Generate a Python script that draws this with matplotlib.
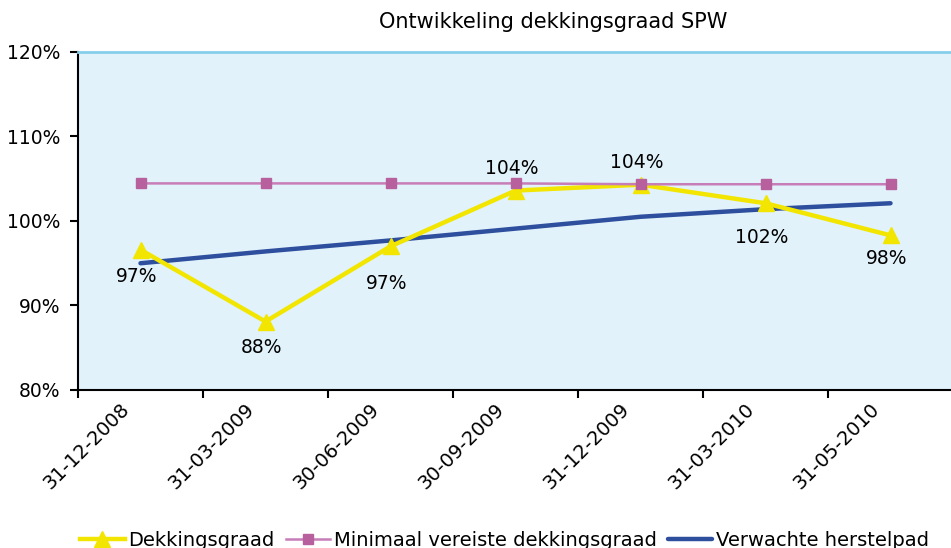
import matplotlib
matplotlib.use('Agg')
import numpy as np
from matplotlib import pyplot as plt
from matplotlib.ticker import FuncFormatter
from matplotlib.transforms import ScaledTranslation

dates = ['31-12-2008', '31-03-2009', '30-06-2009', '30-09-2009',
         '31-12-2009', '31-03-2010', '31-05-2010']
dekkingsgraad = [96.6, 88.1, 97.0, 103.6, 104.3, 102.1, 98.3]
minimaal = [104.45, 104.45, 104.45, 104.45, 104.35, 104.35, 104.35]
herstelpad = [95.0, 96.4, 97.7, 99.1, 100.5, 101.4, 102.1]
# label offsets in points (negative = below the marker)
label_off = [-19, -19, -27, 16, 16, -25, -17]

plt.rcParams['font.family'] = ['DejaVu Sans']

W, H = 951, 548
fig = plt.figure(figsize=(W / 100, H / 100), dpi=100)
ax = fig.add_axes([78 / W, (H - 390) / H, 875 / W, 338 / H])
ax.set_facecolor('#E1F2FA')

x = np.arange(len(dates))
ax.plot(x, dekkingsgraad, color='#F2E600', lw=3.2, marker='^', ms=12,
        label='Dekkingsgraad', zorder=3)
ax.plot(x, minimaal, color='#C77DB8', lw=1.8, marker='s', ms=6.5,
        mfc='#B8609E', mec='#B8609E', label='Minimaal vereiste dekkingsgraad', zorder=4)
ax.plot(x, herstelpad, color='#2E4E9E', lw=3.2, solid_capstyle='round',
        label='Verwachte herstelpad', zorder=2)

for xi, v, off in zip(x, dekkingsgraad, label_off):
    ax.annotate(f'{v:.0f}%', (xi, v), xytext=(-3, off), textcoords='offset points',
                ha='center', va='center', fontsize=13.5)

ax.set_xlim(-0.5, len(dates) - 0.5)
ax.set_ylim(80, 120)
ax.set_yticks([80, 90, 100, 110, 120])
ax.yaxis.set_major_formatter(FuncFormatter(lambda v, p: f'{v:.0f}%'))
ax.set_xticks(x)
ax.set_xticklabels(dates, rotation=45, ha='right', va='center', rotation_mode='anchor')
ax.set_xticks(np.arange(len(dates)) - 0.5, minor=True)
ax.tick_params(axis='x', which='major', length=0, pad=12, labelsize=14)
ax.tick_params(axis='x', which='minor', length=6, width=1.5, direction='out')
ax.tick_params(axis='y', length=6, width=1.5, direction='out', pad=6.5, labelsize=13.5)
shift = ScaledTranslation(-14 / 100, 0, fig.dpi_scale_trans)
for lab in ax.get_xticklabels():
    lab.set_transform(lab.get_transform() + shift)

ax.spines['top'].set_color('#87CEEB')
ax.spines['top'].set_linewidth(2)
ax.spines['right'].set_visible(False)
ax.spines['left'].set_linewidth(1.5)
ax.spines['bottom'].set_linewidth(1.5)

fig.text(553 / W, 1 - 22 / H, 'Ontwikkeling dekkingsgraad SPW', ha='center', va='center',
         fontsize=15)

fig.legend(loc='center left', bbox_to_anchor=(80 / W, 8 / H), ncol=3, frameon=False,
           fontsize=14, handlelength=2.3, handletextpad=0.2, columnspacing=0.55,
           borderpad=0, borderaxespad=0)

fig.savefig('out.png', dpi=100)
